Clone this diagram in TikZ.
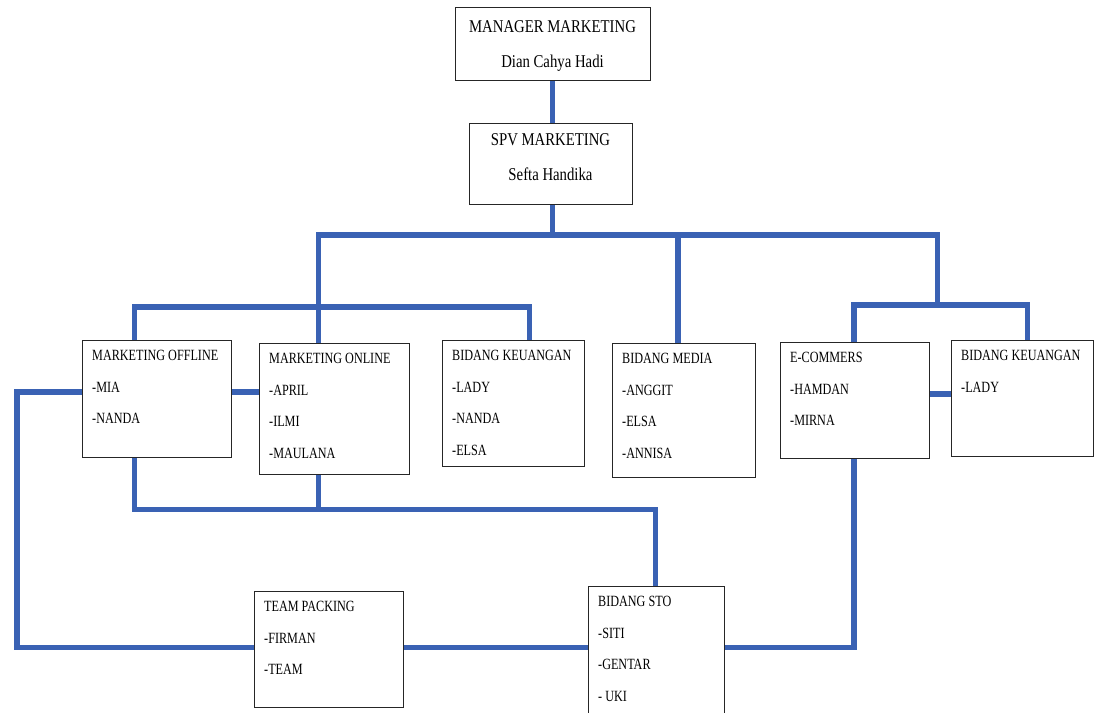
\documentclass[tikz,border=0pt]{standalone}
\usepackage{fontspec}
\usepackage{tikz}
\usetikzlibrary{positioning, calc}
\newfontfamily\headfont[FakeStretch=0.82]{Liberation Serif}
\newfontfamily\bodyfont[FakeStretch=0.78]{Liberation Serif}
\definecolor{linkblue}{RGB}{58,98,180}

\begin{document}
\begin{tikzpicture}[x=1pt, y=-1pt,
    box/.style={draw=black!85, line width=1.3pt, anchor=north west, inner sep=0pt},
    head/.style={anchor=north, inner sep=0pt, align=center, font=\headfont\fontsize{18}{35}\selectfont},
    lbl/.style={anchor=north west, inner sep=0pt, align=left, font=\bodyfont\fontsize{15.6}{31.5}\selectfont},
    link/.style={draw=linkblue, line width=5.5pt}]
                        \useasboundingbox (0, 0) rectangle (1094, 712);
                        \clip (0, 0) rectangle (1094, 712);
                        % top
                        \node[box, minimum width=195pt, minimum height=73pt] (mgr) at (455, 7) {};
                        \node[head] (mgrT) at (552.5, 20) {MANAGER MARKETING\\Dian Cahya Hadi};
                        \node[box, minimum width=163pt, minimum height=81pt] (spv) at (469, 123) {};
                        \node[head] (spvT) at (550.5, 133) {SPV MARKETING\\Sefta Handika};
                        % middle row
                        \node[box, minimum width=149pt, minimum height=117pt] (off) at (82, 340) {};
                        \node[lbl] (offT) at ([xshift=10pt, yshift=-10pt]off.north west) {MARKETING OFFLINE\\-MIA\\-NANDA};
                        \node[box, minimum width=150pt, minimum height=131pt] (onl) at (259, 343) {};
                        \node[lbl] (onlT) at ([xshift=10pt, yshift=-10pt]onl.north west) {MARKETING ONLINE\\-APRIL\\-ILMI\\-MAULANA};
                        \node[box, minimum width=142pt, minimum height=126pt] (keu) at (442, 340) {};
                        \node[lbl] (keuT) at ([xshift=10pt, yshift=-10pt]keu.north west) {BIDANG KEUANGAN\\-LADY\\-NANDA\\-ELSA};
                        \node[box, minimum width=143pt, minimum height=134pt] (med) at (612, 343) {};
                        \node[lbl] (medT) at ([xshift=10pt, yshift=-10pt]med.north west) {BIDANG MEDIA\\-ANGGIT\\-ELSA\\-ANNISA};
                        \node[box, minimum width=149pt, minimum height=116pt] (ec) at (780, 342) {};
                        \node[lbl] (ecT) at ([xshift=10pt, yshift=-10pt]ec.north west) {E-COMMERS\\-HAMDAN\\-MIRNA};
                        \node[box, minimum width=142pt, minimum height=116pt] (bk2) at (951, 340) {};
                        \node[lbl] (bk2T) at ([xshift=10pt, yshift=-10pt]bk2.north west) {BIDANG KEUANGAN\\-LADY};
                        % bottom row
                        \node[box, minimum width=149pt, minimum height=116pt] (tp) at (254, 591) {};
                        \node[lbl] (tpT) at ([xshift=10pt, yshift=-10pt]tp.north west) {TEAM PACKING\\-FIRMAN\\-TEAM};
                        \node[box, minimum width=136pt, minimum height=140pt] (sto) at (588, 586) {};
                        \node[lbl] (stoT) at ([xshift=10pt, yshift=-10pt]sto.north west) {BIDANG STO\\-SITI\\-GENTAR\\- UKI};
                        % junctions
                        \coordinate (hC) at (552.5, 235);
                        \coordinate (hL) at (318.5, 235);
                        \coordinate (hM) at (678, 235);
                        \coordinate (hR) at (937.5, 235);
                        \coordinate (gL) at (134.5, 307);
                        \coordinate (gR) at (529.5, 307);
                        \coordinate (eL) at (854, 305);
                        \coordinate (eR) at (1027.5, 305);
                        \coordinate (mL) at (17, 392);
                        \coordinate (mE) at (940, 394);
                        \coordinate (bL) at (17, 647.5);
                        \coordinate (bR) at (854, 647.5);
                        \coordinate (dL) at (134.5, 509.5);
                        \coordinate (dR) at (655.5, 509.5);
                        % links
                        \draw[link] (hC |- mgr.south) -- (hC |- spv.north);
                        \draw[link] (hC |- spv.south) -- (hC);
                        \draw[link] (hL |- onl.north) -- (hL) -- (hR) -- (hR |- eL);
                        \draw[link] (hM) -- (hM |- med.north);
                        \draw[link] (gL |- off.north) -- (gL) -- (gR) -- (gR |- keu.north);
                        \draw[link] (eL |- ec.north) -- (eL) -- (eR) -- (eR |- bk2.north);
                        \draw[link] (off.east |- mL) -- (onl.west |- mL);
                        \draw[link] (ec.east |- mE) -- (bk2.west |- mE);
                        \draw[link] (off.west |- mL) -- (mL) -- (bL) -- (tp.west |- bL);
                        \draw[link] (tp.east |- bL) -- (sto.west |- bL);
                        \draw[link] (sto.east |- bL) -- (bR) -- (bR |- ec.south);
                        \draw[link] (dL |- off.south) -- (dL) -- (dR) -- (dR |- sto.north);
                        \draw[link] (hL |- onl.south) -- (hL |- dL);
                    \end{tikzpicture}
\end{document}
